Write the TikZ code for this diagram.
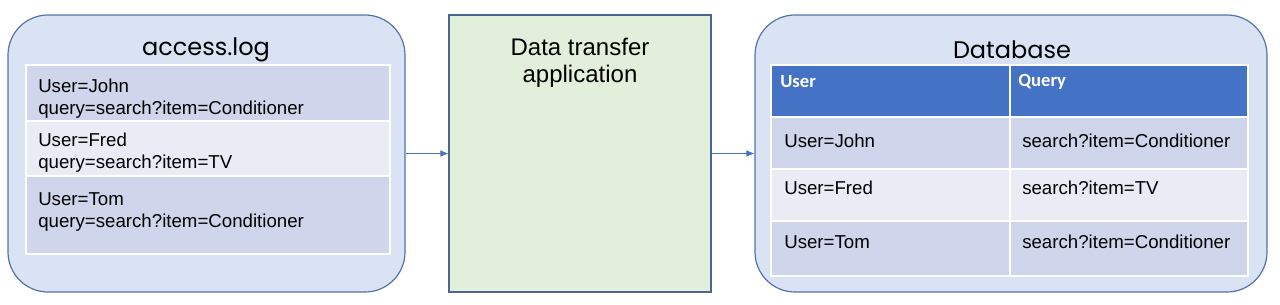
\documentclass[tikz,border=0pt]{standalone}
\usepackage{fontspec}
\usetikzlibrary{arrows.meta}
\setmainfont{Liberation Sans}
\newfontfamily\titlefont{Poppins}
\newfontfamily\headfont{Carlito}
\definecolor{panelfill}{HTML}{DAE3F3}
\definecolor{panelline}{HTML}{5273AD}
\definecolor{appfill}{HTML}{E2EFDA}
\definecolor{appline}{HTML}{4A6590}
\definecolor{rowdark}{HTML}{CFD5EA}
\definecolor{rowlight}{HTML}{E9EBF5}
\definecolor{headblue}{HTML}{4472C4}
\begin{document}
\begin{tikzpicture}[x=0.75pt, y=-0.75pt,
    panel/.style={draw=panelline, fill=panelfill, line width=0.9pt, rounded corners=30pt, inner sep=0pt},
    cell/.style={fill=#1, draw=white, line width=1.5pt, anchor=north west, inner sep=0pt},
    entry/.style={anchor=west, align=left, inner sep=0pt, font=\fontsize{14}{16.5}\selectfont},
    flow/.style={-{Latex[length=6pt,width=5pt]}, draw=headblue, line width=0.6pt}]
    \useasboundingbox (0,0) rectangle (1280,304);

    % Panels
    \node[panel, minimum width=297.75pt, minimum height=207.75pt] (log) at (206.5,153.5) {};
    \node[draw=appline, fill=appfill, line width=0.9pt, minimum width=196.5pt, minimum height=207.75pt] (app) at (580,153.5) {};
    \node[panel, minimum width=384pt, minimum height=207.75pt] (db) at (1011,153.5) {};

    % Titles
    \node[font=\titlefont\fontsize{18}{20}\selectfont] (logtitle) at (206,50) {access.log};
    \node[align=center, font=\fontsize{18}{20.25}\selectfont] (apptitle) at (580,63) {Data transfer\\application};
    \node[font=\titlefont\fontsize{18}{20}\selectfont] (dbtitle) at (1012,50) {Database};

    % Log lines
    \node[cell=rowdark, minimum width=273pt, minimum height=42pt] (row1) at (25,64) {};
    \node[cell=rowlight, minimum width=273pt, minimum height=41.25pt] (row2) at (25,120) {};
    \node[cell=rowdark, minimum width=273pt, minimum height=58.5pt] (row3) at (25,175) {};
    \node[entry] (line1) at (38,99) {User=John\\query=search?item=Conditioner};
    \node[entry] (line2) at (38,153) {User=Fred\\query=search?item=TV};
    \node[entry] (line3) at (38,212) {User=Tom\\query=search?item=Conditioner};

    % Database table
    \node[cell=headblue, minimum width=179.25pt, minimum height=39pt] (huser) at (770,64) {};
    \node[cell=headblue, minimum width=178.5pt, minimum height=39pt] (hquery) at (1009,64) {};
    \node[cell=rowdark, minimum width=179.25pt, minimum height=39pt] (u1) at (770,116) {};
    \node[cell=rowdark, minimum width=178.5pt, minimum height=39pt] (q1) at (1009,116) {};
    \node[cell=rowlight, minimum width=179.25pt, minimum height=39pt] (u2) at (770,168) {};
    \node[cell=rowlight, minimum width=178.5pt, minimum height=39pt] (q2) at (1009,168) {};
    \node[cell=rowdark, minimum width=179.25pt, minimum height=41.25pt] (u3) at (770,220) {};
    \node[cell=rowdark, minimum width=178.5pt, minimum height=41.25pt] (q3) at (1009,220) {};

    \node[entry, text=white, font=\headfont\bfseries\fontsize{14}{16}\selectfont] (husert) at (780,82) {User};
    \node[entry, text=white, font=\headfont\bfseries\fontsize{14}{16}\selectfont] (hqueryt) at (1018,82) {Query};
    \node[entry] (u1t) at (784,141) {User=John};
    \node[entry] (q1t) at (1022,141) {search?item=Conditioner};
    \node[entry] (u2t) at (784,188) {User=Fred};
    \node[entry] (q2t) at (1022,188) {search?item=TV};
    \node[entry] (u3t) at (784,242) {User=Tom};
    \node[entry] (q3t) at (1022,242) {search?item=Conditioner};

    % Arrows
    \draw[flow] (log.east) -- (app.west);
    \draw[flow] (app.east) -- (db.west);
\end{tikzpicture}
\end{document}
